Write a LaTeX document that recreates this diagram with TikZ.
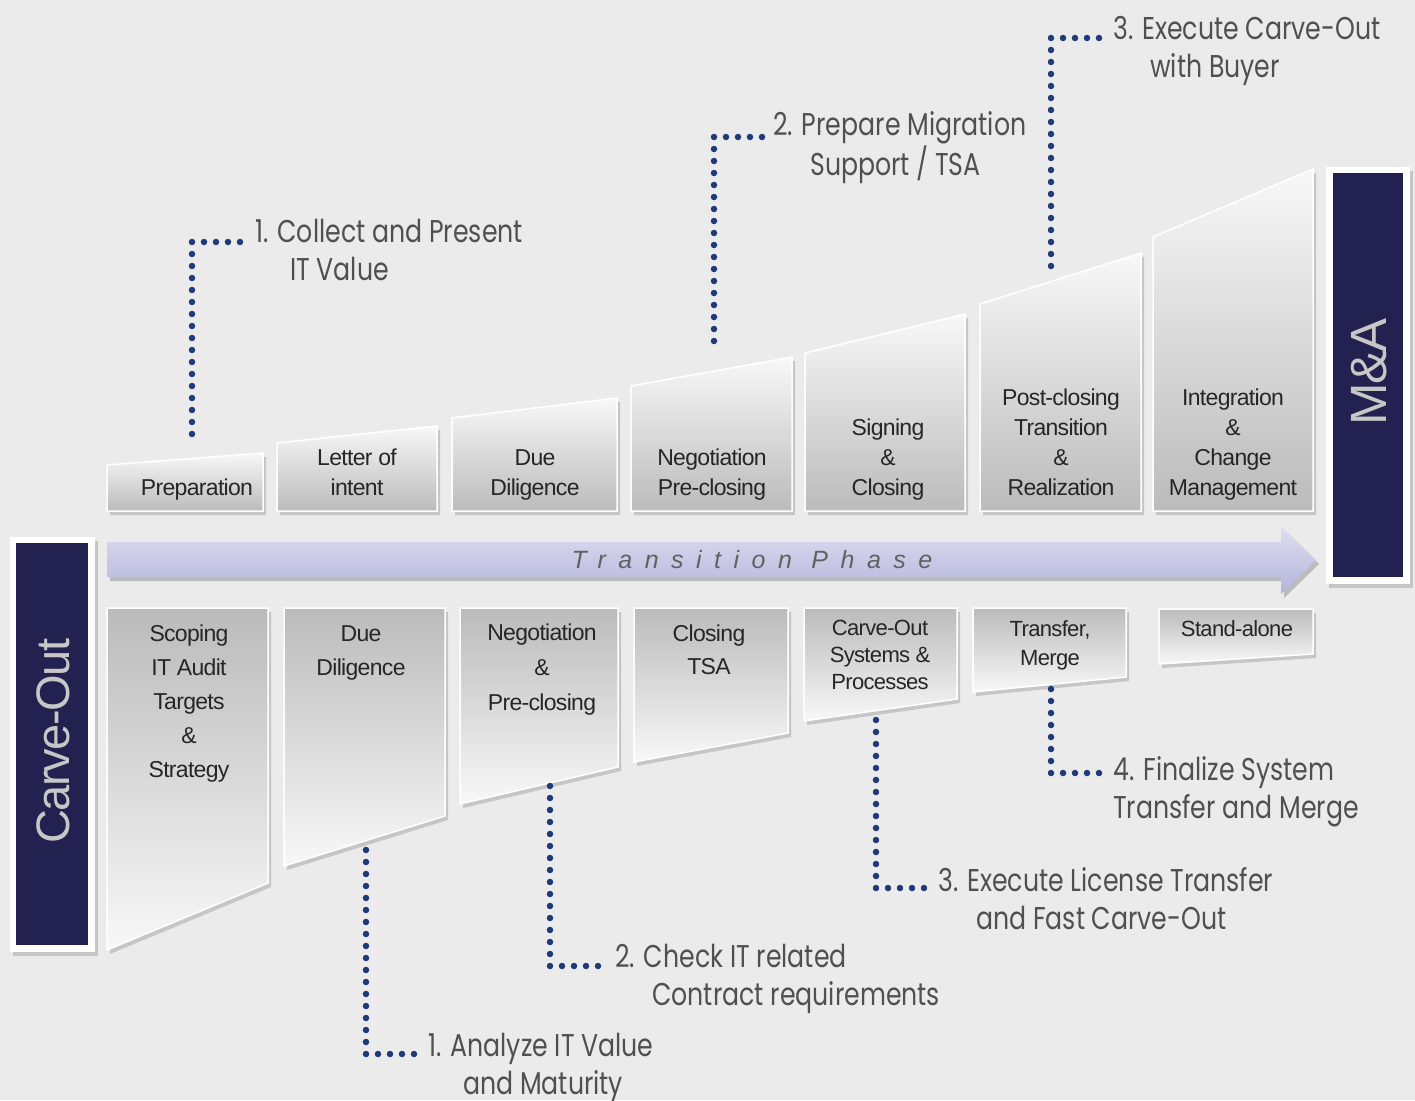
\documentclass[tikz,border=0pt]{standalone}
\usepackage{fontspec}
\setmainfont{Liberation Sans}
\newfontfamily\boxfont[LetterSpace=-3]{Liberation Sans}
\newfontfamily\lblfont[FakeStretch=0.8]{Poppins}
\newfontfamily\tpfont[LetterSpace=50]{Liberation Sans}
\definecolor{bg}{HTML}{EBEBEB}
\definecolor{navy}{HTML}{22214F}
\definecolor{dotc}{HTML}{1E3A7B}
\definecolor{lblc}{HTML}{505050}
\definecolor{boxc}{HTML}{262626}
\definecolor{tT}{HTML}{F8F8F8}
\definecolor{tB}{HTML}{BBBBBB}
\definecolor{arT}{HTML}{DEDEF0}
\definecolor{arB}{HTML}{B4B4DC}
\newcommand{\tbox}[5]{%
  \fill[black!40,opacity=.45] (#1+3,#5+4) -- (#1+3,#3+4) -- (#2+3,#4+4) -- (#2+3,#5+4) -- cycle;
  \shade[top color=tT, bottom color=tB, draw=white, line width=1.5pt] (#1,#5) -- (#1,#3) -- (#2,#4) -- (#2,#5) -- cycle;}
\newcommand{\bbox}[5]{%
  \fill[black!40,opacity=.45] (#1+3,#3+4) -- (#1+3,#4+4) -- (#2+3,#5+4) -- (#2+3,#3+4) -- cycle;
  \shade[top color=tB, bottom color=tT, draw=white, line width=1.5pt] (#1,#3) -- (#1,#4) -- (#2,#5) -- (#2,#3) -- cycle;}
\begin{document}
\begin{tikzpicture}[x=1pt,y=-1pt,
  boxtxt/.style={font=\boxfont\fontsize{23}{30}\selectfont, text=boxc, align=center, inner sep=0pt, anchor=base},
  smalltxt/.style={font=\boxfont\fontsize{22}{27}\selectfont, text=boxc, align=center, inner sep=0pt, anchor=base},
  lbl/.style={font=\lblfont\fontsize{31.5}{38}\selectfont, text=lblc, align=left, inner sep=0pt, anchor=base west},
  dotline/.style={draw=dotc, line width=6.5pt, line cap=round, dash pattern=on 0pt off 12pt},
  sidetxt/.style={text=black!22, inner sep=0pt, rotate=90}]
\useasboundingbox (0,0) rectangle (1415,1100);
\fill[bg] (0,0) rectangle (1415,1100);

% ---------- top boxes ----------
\tbox{107}{263}{465}{453}{511}
\tbox{277}{437}{443}{426}{511}
\tbox{452}{617}{418}{398}{511}
\tbox{631}{792}{386}{357}{511}
\tbox{805}{965}{353}{314}{511}
\tbox{980}{1141}{304}{253}{511}
\tbox{1153}{1313}{237}{169}{511}

% (base anchor = baseline of the last line)
\node[boxtxt] (prep) at (197,495) {Preparation};
\node[boxtxt] (loi) at (357,495) {Letter of\\intent};
\node[boxtxt] (dd1) at (535,495) {Due\\Diligence};
\node[boxtxt] (neg1) at (712,495) {Negotiation\\Pre-closing};
\node[boxtxt] (sign) at (888,495) {Signing\\\&\\Closing};
\node[boxtxt] (post) at (1061,495) {Post-closing\\Transition\\\&\\Realization};
\node[boxtxt] (integ) at (1233,495) {Integration\\\&\\Change\\Management};

% ---------- arrow ----------
\fill[black!45,opacity=.5] (110,546) -- (1284,546) -- (1284,530) -- (1319,564) -- (1284,598) -- (1284,581) -- (110,581) -- cycle;
\shade[top color=arT, bottom color=arB] (107,542) -- (1281,542) -- (1281,526) -- (1316,560) -- (1281,594) -- (1281,577) -- (107,577) -- cycle;
\node[font=\tpfont\itshape\fontsize{25}{25}\selectfont, text=black!62, inner sep=0pt] (trans) at (752,560) {Transition Phase};

% ---------- side boxes ----------
\fill[black!40,opacity=.45] (13,541) rectangle (98,956);
\fill[white] (10,537) rectangle (95,952);
\fill[navy] (16,543) rectangle (88,945);
\node[sidetxt, font=\boxfont\fontsize{47}{47}\selectfont] (carve) at (53,741) {Carve-Out};

\fill[black!40,opacity=.45] (1329,171) rectangle (1413,588);
\fill[white] (1326,167) rectangle (1410,584);
\fill[navy] (1333,173) rectangle (1403,577);
\node[sidetxt, font=\boxfont\fontsize{51}{51}\selectfont] (ma) at (1369,372) {M\&A};

% ---------- bottom boxes ----------
\bbox{107}{268}{608}{950}{883}
\bbox{284}{445}{608}{866}{816}
\bbox{460}{618}{608}{804}{767}
\bbox{634}{788}{608}{762}{733}
\bbox{804}{957}{608}{721}{699}
\bbox{973}{1126}{608}{692}{677}
\bbox{1159}{1313}{609}{664}{654}

\node[boxtxt, font=\boxfont\fontsize{23}{34}\selectfont] (scop) at (189,777) {Scoping\\IT Audit\\Targets\\\&\\Strategy};
\node[boxtxt, font=\boxfont\fontsize{23}{34}\selectfont] (dd2) at (361,675) {Due\\Diligence};
\node[boxtxt, font=\boxfont\fontsize{23}{35}\selectfont] (neg2) at (542,710) {Negotiation\\\&\\Pre-closing};
\node[boxtxt, font=\boxfont\fontsize{23}{33}\selectfont] (clos) at (709,674) {Closing\\TSA};
\node[smalltxt] (cos) at (880,689) {Carve-Out\\Systems \&\\Processes};
\node[smalltxt, font=\boxfont\fontsize{22}{29}\selectfont] (trm) at (1050,665) {Transfer,\\Merge};
\node[smalltxt] (stand) at (1237,636) {Stand-alone};

% ---------- leader anchors ----------
\coordinate (pT1) at (192,434);
\coordinate (pT2) at (714,341);
\coordinate (pT3) at (1051,266);
\coordinate (pB1) at (366,850);
\coordinate (pB2) at (550,786);
\coordinate (pB3) at (876,720);
\coordinate (pB4) at (1051,689);

\coordinate (eT1) at (240,242);
\coordinate (eT2) at (762,137);
\coordinate (eT3) at (1099,38);
\coordinate (eB1) at (414,1054);
\coordinate (eB2) at (598,966);
\coordinate (eB3) at (924,888);
\coordinate (eB4) at (1099,773);

\draw[dotline] (pT1) |- (eT1);
\draw[dotline] (pT2) |- (eT2);
\draw[dotline] (pT3) |- (eT3);
\draw[dotline] (pB1) |- (eB1);
\draw[dotline] (pB2) |- (eB2);
\draw[dotline] (pB3) |- (eB3);
\draw[dotline] (pB4) |- (eB4);

% ---------- labels (base = last line) ----------
\node[lbl] (l1) at (255,280) {1. Collect and Present\\\hspace*{35pt}IT Value};
\node[lbl] (l2) at (773,175) {2. Prepare Migration\\\hspace*{37pt}Support / TSA};
\node[lbl] (l3) at (1113,77) {3. Execute Carve-Out\\\hspace*{37pt}with Buyer};
\node[lbl] (b1) at (428,1094) {1. Analyze IT Value\\\hspace*{35pt}and Maturity};
\node[lbl] (b2) at (615,1005) {2. Check IT related\\\hspace*{37pt}Contract requirements};
\node[lbl] (b3) at (938,929) {3. Execute License Transfer\\\hspace*{38pt}and Fast Carve-Out};
\node[lbl] (b4) at (1113,818) {4. Finalize System\\Transfer and Merge};
\end{tikzpicture}
\end{document}
